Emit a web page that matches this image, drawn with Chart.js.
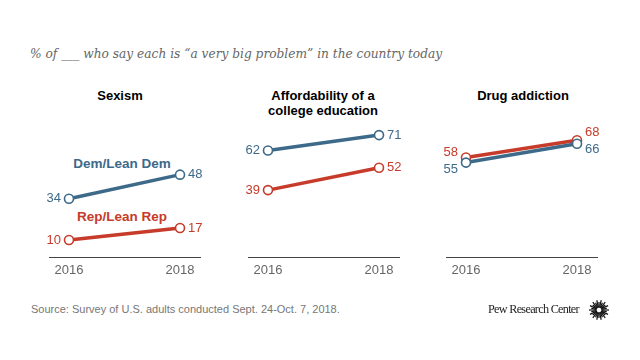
<!DOCTYPE html>
<html><head><meta charset="utf-8">
<script src="https://cdn.jsdelivr.net/npm/chart.js@4/dist/chart.umd.min.js"></script>
<style>
body{margin:0;width:640px;height:360px;background:#fff;position:relative;overflow:hidden;font-family:"Liberation Sans",Arial,sans-serif}
.t{position:absolute;white-space:nowrap}
.c{transform:translateX(-50%);text-align:center}
canvas{position:absolute}
</style></head><body>
<div class="t" style="left:30px;top:46px;font:italic 12.2px/16px 'DejaVu Serif',serif;color:#666">% of ___ who say each is “a very big problem” in the country today</div>
<div class="t c" id="t0" style="left:120px;top:87.5px;font:bold 13px/15px 'Liberation Sans';color:#000"></div>
<div class="t c" id="t1" style="left:323px;top:87.5px;font:bold 13px/15px 'Liberation Sans';color:#000"></div>
<div class="t c" id="t2" style="left:523px;top:87.5px;font:bold 13px/15px 'Liberation Sans';color:#000"></div>
<div class="t c" id="legDem" style="left:122px;top:155.5px;font:bold 13.5px/15px 'Liberation Sans';color:#3e6a8a"></div>
<div class="t c" id="legRep" style="left:122px;top:209px;font:bold 13.5px/15px 'Liberation Sans';color:#c63b2a"></div>
<canvas id="c0" width="201" height="230" style="left:24px;top:60px"></canvas>
<canvas id="c1" width="201" height="230" style="left:222.5px;top:60px"></canvas>
<canvas id="c2" width="201" height="230" style="left:421px;top:60px"></canvas>
<div class="t" style="left:31px;top:302px;font:11px/14px 'Liberation Sans';color:#777">Source: Survey of U.S. adults conducted Sept. 24-Oct. 7, 2018.</div>
<div class="t" style="left:488px;top:301px;font:12.2px/16px 'Liberation Serif',serif;color:#222;letter-spacing:-0.7px">Pew Research Center</div>
<canvas id="logo" width="24" height="24" style="left:587px;top:298px"></canvas>
<script>
const years = [2016, 2018];
const panelTitles = ["Sexism", "Affordability of a<br>college education", "Drug addiction"];
const seriesNames = ["Dem/Lean Dem", "Rep/Lean Rep"];
const demValues = [[34, 48], [62, 71], [55, 66]];
const repValues = [[10, 17], [39, 52], [58, 68]];

const DEM = '#3e6a8a', REP = '#c63b2a';
const labelOffsets = [
  {dem:[0,0], rep:[0,0]},
  {dem:[0,0], rep:[0,0]},
  {dem:[6.7,5.3], rep:[-4.7,-7.5]}
];

panelTitles.forEach((t,i)=>{document.getElementById('t'+i).innerHTML=t;});
document.getElementById('legDem').textContent = seriesNames[0];
document.getElementById('legRep').textContent = seriesNames[1];

const valueLabels = {
  id:'valueLabels',
  afterDatasetsDraw(chart, args, opts){
    const ctx = chart.ctx;
    chart.data.datasets.forEach((ds,i)=>{
      const meta = chart.getDatasetMeta(i);
      const offs = opts.offsets[i];
      meta.data.forEach((pt,j)=>{
        ctx.save();
        ctx.fillStyle = ds.borderColor;
        ctx.font = '13px "Liberation Sans"';
        ctx.textBaseline = 'middle';
        ctx.textAlign = j===0 ? 'right' : 'left';
        ctx.fillText(String(ds.data[j].y), pt.x + (j===0 ? -8 : 8), pt.y + offs[j]);
        ctx.restore();
      });
    });
  }
};

function mk(i){
  const toPts = arr => arr.map((v,k)=>({x:years[k], y:v}));
  const common = {borderWidth:3.5, pointRadius:4.5, pointBorderWidth:1.6, pointBackgroundColor:'#fff', tension:0};
  new Chart(document.getElementById('c'+i), {
    type:'line',
    data:{datasets:[
      Object.assign({label:seriesNames[0], data:toPts(demValues[i]), borderColor:DEM, pointBorderColor:DEM}, common),
      Object.assign({label:seriesNames[1], data:toPts(repValues[i]), borderColor:REP, pointBorderColor:REP}, common)
    ]},
    options:{
      responsive:false, animation:false, events:[],
      layout:{padding:{left:25,right:25,top:25.2,bottom:0}},
      plugins:{legend:{display:false}, tooltip:{enabled:false}, title:{display:false},
        valueLabels:{offsets:[labelOffsets[i].dem, labelOffsets[i].rep]}},
      scales:{
        x:{type:'linear', min:2015.64, max:2018.36,
          afterBuildTicks(s){ s.ticks = years.map(v=>({value:v})); },
          afterFit(s){ s.height = 32.8; },
          grid:{display:true, color:'rgba(0,0,0,0)', drawTicks:false},
          border:{display:true, color:'#444', width:1},
          ticks:{callback:v=>String(v), color:'#666', font:{family:'Liberation Sans', size:13}, padding:5, maxRotation:0, autoSkip:false}
        },
        y:{display:false, min:0, max:100}
      }
    },
    plugins:[valueLabels]
  });
}
[0,1,2].forEach(mk);

// logo sunburst
(function(){
  const c = document.getElementById('logo').getContext('2d');
  c.translate(12,12);
  c.strokeStyle = '#111'; c.lineWidth = 1.2;
  for(let k=0;k<28;k++){
    const a = k/28*Math.PI*2;
    const r2 = k%2 ? 8 : 10;
    c.beginPath(); c.moveTo(Math.cos(a)*2.5, Math.sin(a)*2.5); c.lineTo(Math.cos(a)*r2, Math.sin(a)*r2); c.stroke();
  }
})();
</script>
</body></html>
